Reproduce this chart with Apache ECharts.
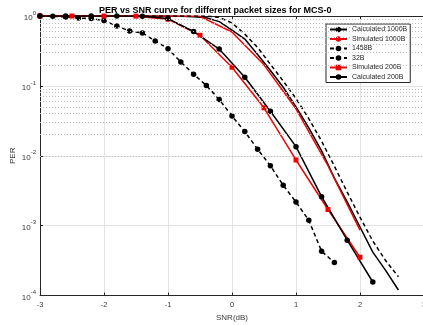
<!DOCTYPE html>
<html>
<head>
<meta charset="utf-8">
<script src="https://cdn.jsdelivr.net/npm/echarts@6/dist/echarts.min.js"></script>
<style>
  html, body { margin: 0; padding: 0; background: #fff; }
  #chart { width: 423px; height: 325px; }
</style>
</head>
<body>
<div id="chart"></div>
<script>
// SNR (dB) and PER values
const snrCalc1000 = [-3, -2, -1, -0.8, -0.6, -0.4, -0.2, 0, 0.2, 0.4, 0.6, 0.8, 1.0, 1.2, 1.4, 1.6, 1.8, 2.0, 2.2, 2.4, 2.6];
const perCalc1000 = [1, 1, 1, 0.993, 0.977, 0.944, 0.83, 0.63, 0.468, 0.282, 0.166, 0.0955, 0.050, 0.0251, 0.01175, 0.00479, 0.00219, 0.000955, 0.000417, 0.000229, 0.000120];

const snrSim1000 = [-3, -2, -1, -0.5, 0, 0.5, 1, 1.5, 2];
const perSim1000 = [1, 1, 1, 0.99, 0.59, 0.2, 0.047, 0.0072, 0.00086];

const snr1458 = [-3, -2, -1, -0.4, -0.2, 0, 0.2, 0.4, 0.6, 0.8, 1.0, 1.2, 1.4, 1.6, 1.8, 2.0, 2.2, 2.4, 2.6];
const per1458 = [1, 1, 1, 1, 0.955, 0.794, 0.55, 0.355, 0.204, 0.1175, 0.066, 0.0339, 0.0162, 0.00708, 0.00302, 0.00132, 0.000603, 0.000316, 0.000186];

const snr32 = [-3, -2.8, -2.6, -2.4, -2.2, -2.0, -1.8, -1.6, -1.4, -1.2, -1.0, -0.8, -0.6, -0.4, -0.2, 0, 0.2, 0.4, 0.6, 0.8, 1.0, 1.2, 1.4, 1.6];
const per32 = [1, 0.99, 0.97, 0.936, 0.918, 0.86, 0.72, 0.61, 0.57, 0.44, 0.34, 0.22, 0.147, 0.101, 0.064, 0.037, 0.0222, 0.0124, 0.0072, 0.00378, 0.00218, 0.00119, 0.00043, 0.000296];

const snrSim200 = [-3, -2.5, -2, -1.5, -1, -0.5, 0, 0.5, 1, 1.5, 2];
const perSim200 = [1, 1, 1, 0.995, 0.90, 0.53, 0.185, 0.0486, 0.0087, 0.0017, 0.000353];

const snrCalc200 = [-3, -2.6, -2.2, -1.8, -1.4, -1.0, -0.6, -0.2, 0.2, 0.6, 1.0, 1.4, 1.8, 2.2];
const perCalc200 = [1, 1, 1, 1, 0.99, 0.918, 0.60, 0.337, 0.133, 0.0433, 0.0135, 0.0026, 0.00062, 0.000156];

const seriesNames = ['Calculated 1000B', 'Simulated 1000B', '1458B', '32B', 'Simulated 200B', 'Calculated 200B'];

const pairs = (xs, ys) => xs.map((x, i) => [x, ys[i]]);

// dotted minor grid at 2..9 x 10^n
const minorLines = [];
for (let e = -4; e < 0; e++) {
  for (let k = 2; k <= 9; k++) minorLines.push({ yAxis: k * Math.pow(10, e) });
}

const font = '"Liberation Sans", Arial, sans-serif';
const axisColor = '#262626';
const labelColor = '#3a3a3a';
const RED = '#f00000';

const chart = echarts.init(document.getElementById('chart'));

chart.setOption({
  animation: false,
  textStyle: { fontFamily: font },
  title: {
    text: 'PER vs SNR curve for different packet sizes for MCS-0',
    left: 94,
    top: 1,
    textStyle: { fontSize: 9, fontWeight: 'bold', color: '#000', fontFamily: font }
  },
  legend: {
    orient: 'vertical',
    left: 326,
    top: 24,
    itemWidth: 17,
    itemHeight: 7,
    itemGap: 2.5,
    padding: [2, 3, 2, 3],
    backgroundColor: '#fff',
    borderColor: axisColor,
    borderWidth: 1,
    textStyle: { fontSize: 7, color: axisColor, fontFamily: font },
    data: seriesNames
  },
  grid: { left: 40, top: 16, width: 384, height: 279.5, containLabel: false, outerBoundsMode: 'none' },
  xAxis: [{
    type: 'value',
    min: -3,
    max: 3,
    interval: 1,
    axisLine: { onZero: false, lineStyle: { color: axisColor } },
    axisTick: { inside: true, length: 3, lineStyle: { color: axisColor } },
    axisLabel: { fontSize: 7.5, color: labelColor, margin: 5, hideOverlap: false },
    splitLine: { lineStyle: { color: '#e2e2e2' } },
    name: 'SNR(dB)',
    nameLocation: 'middle',
    nameGap: 16,
    nameTextStyle: { fontSize: 8, color: labelColor }
  }, {
    type: 'value',
    position: 'top',
    min: -3,
    max: 3,
    interval: 1,
    axisLine: { onZero: false, lineStyle: { color: axisColor } },
    axisTick: { inside: true, length: 3, lineStyle: { color: axisColor } },
    axisLabel: { show: false },
    splitLine: { show: false }
  }],
  yAxis: {
    type: 'log',
    logBase: 10,
    min: 1e-4,
    max: 1,
    axisLine: { show: true, onZero: false, lineStyle: { color: axisColor } },
    axisTick: { show: true, inside: true, length: 3, lineStyle: { color: axisColor } },
    axisLabel: {
      margin: 4,
      color: labelColor,
      formatter: (v) => '{b|10}{e|' + Math.round(Math.log10(v)) + '}',
      rich: {
        b: { fontSize: 8, lineHeight: 12, verticalAlign: 'bottom', color: labelColor, fontFamily: font },
        e: { fontSize: 6, lineHeight: 6, verticalAlign: 'top', color: labelColor, fontFamily: font }
      }
    },
    splitLine: { lineStyle: { color: '#e2e2e2' } },
    name: 'PER',
    nameLocation: 'middle',
    nameGap: 23,
    nameMoveOverlap: false,
    nameTextStyle: { fontSize: 8, color: labelColor }
  },
  series: [
    {
      name: 'minor-grid',
      type: 'line',
      data: [],
      silent: true,
      z: 1,
      markLine: {
        silent: true,
        symbol: 'none',
        label: { show: false },
        lineStyle: { type: [1, 2], color: '#bdbdbd', width: 1 },
        data: minorLines
      }
    },
    {
      name: seriesNames[0], type: 'line', data: pairs(snrCalc1000, perCalc1000),
      symbol: 'none', lineStyle: { color: '#000', width: 1.5 }, itemStyle: { color: '#000' }
    },
    {
      name: seriesNames[1], type: 'line', data: pairs(snrSim1000, perSim1000),
      symbol: 'none', lineStyle: { color: RED, width: 1.5 }, itemStyle: { color: RED }
    },
    {
      name: seriesNames[2], type: 'line', data: pairs(snr1458, per1458),
      symbol: 'none', lineStyle: { color: '#000', width: 1.5, type: [4, 3] }, itemStyle: { color: '#000' }
    },
    {
      name: seriesNames[3], type: 'line', data: pairs(snr32, per32),
      symbol: 'circle', symbolSize: 5.5,
      lineStyle: { color: '#000', width: 1.5, type: [4, 3] }, itemStyle: { color: '#000' }
    },
    {
      name: seriesNames[4], type: 'line', data: pairs(snrSim200, perSim200),
      symbol: 'rect', symbolSize: 5,
      lineStyle: { color: RED, width: 1.5 }, itemStyle: { color: RED }
    },
    {
      name: seriesNames[5], type: 'line', data: pairs(snrCalc200, perCalc200),
      symbol: 'circle', symbolSize: 5.5,
      lineStyle: { color: '#000', width: 1.5 }, itemStyle: { color: '#000' }
    }
  ]
});
</script>
</body>
</html>
